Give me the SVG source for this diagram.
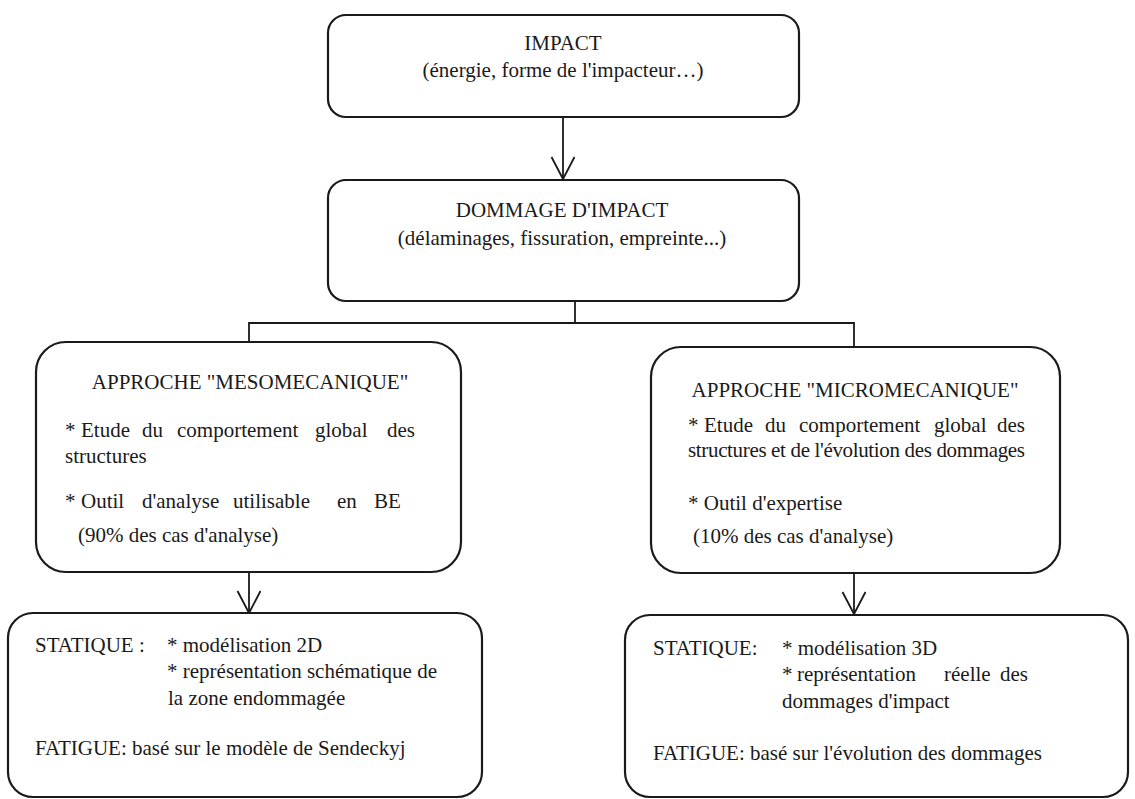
<svg xmlns="http://www.w3.org/2000/svg" width="1135" height="799" viewBox="0 0 1135 799">
<defs>
<style>
.box{fill:#fff;stroke:#1a1a1a;stroke-width:2.2}
.ln{fill:none;stroke:#1a1a1a;stroke-width:1.8}
text{font-family:"Liberation Serif","Times New Roman",serif;font-size:21px;fill:#1a1a1a}
.c{text-anchor:middle}
</style>
<marker id="v" viewBox="-24 -14 26 28" refX="0" refY="0" markerWidth="26" markerHeight="28" markerUnits="userSpaceOnUse" orient="auto">
<path d="M-22,-11.5 L0,0 L-22,11.5" fill="none" stroke="#1a1a1a" stroke-width="1.8"/>
</marker>
</defs>
<rect width="1135" height="799" fill="#fff"/>
<g id="connectors">
<line class="ln" x1="563" y1="117" x2="563" y2="179" marker-end="url(#v)"/>
<polyline class="ln" points="575,301 575,323"/>
<polyline class="ln" points="249,342 249,323 854,323 854,347"/>
<line class="ln" x1="249" y1="572" x2="249" y2="613" marker-end="url(#v)"/>
<line class="ln" x1="854" y1="573" x2="854" y2="614" marker-end="url(#v)"/>
</g>
<g id="impact">
<rect class="box" x="328" y="15" width="471" height="102" rx="18"/>
<text class="c" x="563" y="50">IMPACT</text>
<text class="c" x="563" y="77">(énergie, forme de l'impacteur…)</text>
</g>
<g id="dommage">
<rect class="box" x="328" y="180" width="471" height="121" rx="18"/>
<text class="c" x="562" y="217">DOMMAGE D'IMPACT</text>
<text class="c" x="562" y="245">(délaminages, fissuration, empreinte...)</text>
</g>
<g id="meso">
<rect class="box" x="36" y="342" width="425" height="230" rx="30"/>
<text class="c" x="250" y="389">APPROCHE "MESOMECANIQUE"</text>
<text y="437"><tspan x="65">*</tspan><tspan x="81">Etude</tspan><tspan x="142">du</tspan><tspan x="177">comportement</tspan><tspan x="315">global</tspan><tspan x="387">des</tspan></text>
<text x="65" y="463">structures</text>
<text y="508"><tspan x="65">*</tspan><tspan x="81">Outil</tspan><tspan x="142">d'analyse</tspan><tspan x="233">utilisable</tspan><tspan x="337">en</tspan><tspan x="374">BE</tspan></text>
<text x="78" y="542">(90% des cas d'analyse)</text>
</g>
<g id="micro">
<rect class="box" x="651" y="347" width="409" height="226" rx="30"/>
<text class="c" x="855" y="397">APPROCHE "MICROMECANIQUE"</text>
<text y="432"><tspan x="688">*</tspan><tspan x="704">Etude</tspan><tspan x="765">du</tspan><tspan x="799">comportement</tspan><tspan x="934">global</tspan><tspan x="997">des</tspan></text>
<text x="688" y="457" textLength="337" lengthAdjust="spacing">structures et de l'évolution des dommages</text>
<text x="688" y="510">* Outil d'expertise</text>
<text x="693" y="543">(10% des cas d'analyse)</text>
</g>
<g id="meso-detail">
<rect class="box" x="8" y="613" width="474" height="184" rx="25"/>
<text x="35" y="652">STATIQUE :</text>
<text x="167" y="652">* modélisation 2D</text>
<text x="167" y="678">* représentation schématique de</text>
<text x="168" y="705">la zone endommagée</text>
<text x="35" y="755">FATIGUE: basé sur le modèle de  Sendeckyj</text>
</g>
<g id="micro-detail">
<rect class="box" x="625" y="615" width="503" height="182" rx="25"/>
<text x="653" y="655">STATIQUE:</text>
<text x="782" y="655">* modélisation 3D</text>
<text y="681"><tspan x="782">*</tspan><tspan x="797">représentation</tspan><tspan x="944">réelle</tspan><tspan x="1000">des</tspan></text>
<text x="782" y="708">dommages d'impact</text>
<text x="653" y="760">FATIGUE: basé sur l'évolution des dommages</text>
</g>
</svg>
